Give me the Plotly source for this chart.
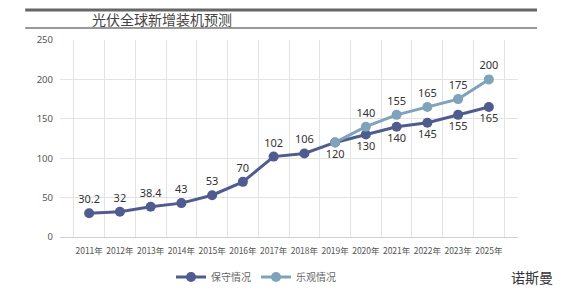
import plotly.graph_objects as go

years = ["2011年", "2012年", "2013年", "2014年", "2015年", "2016年", "2017年",
         "2018年", "2019年", "2020年", "2021年", "2022年", "2023年", "2025年"]
conservative = [30.2, 32, 38.4, 43, 53, 70, 102, 106, 120, 130, 140, 145, 155, 165]
opt_years = ["2019年", "2020年", "2021年", "2022年", "2023年", "2025年"]
optimistic = [120, 140, 155, 165, 175, 200]
opt_labels = ["", "140", "155", "165", "175", "200"]

c_dark = "#505c8f"
c_light = "#7fa3bb"

cons_pos = ["top center"] * 8 + ["bottom center"] * 6

fig = go.Figure()
fig.add_trace(go.Scatter(
    x=years, y=conservative, name="保守情况", mode="lines+markers+text",
    line=dict(color=c_dark, width=3), marker=dict(size=10, color=c_dark),
    text=[f"{v:g}" for v in conservative], textposition=cons_pos,
    textfont=dict(size=11, color="#333333", family="Noto Sans"),
))
fig.add_trace(go.Scatter(
    x=opt_years, y=optimistic, name="乐观情况", mode="lines+markers+text",
    line=dict(color=c_light, width=3), marker=dict(size=10, color=c_light),
    text=opt_labels, textposition="top center",
    textfont=dict(size=11, color="#333333", family="Noto Sans"),
))

fig.update_layout(
    width=576, height=305,
    margin=dict(l=60, r=58, t=40, b=68),
    paper_bgcolor="white", plot_bgcolor="white",
    font=dict(family="Noto Sans CJK SC", color="#555555"),
    showlegend=True,
    legend=dict(orientation="h", x=0.428, xanchor="center", y=-0.203, yanchor="middle",
                font=dict(size=10, color="#666666"), itemwidth=30, tracegroupgap=0),
    xaxis=dict(type="category", categoryorder="array", categoryarray=years,
               tickson="boundaries", showgrid=True, gridcolor="#e3e3e3", gridwidth=1,
               showline=True, linecolor="#d0d0d0", ticks="", tickangle=0,
               ticklabelstandoff=6,
               tickfont=dict(size=8.5, color="#555555", family="Noto Sans CJK SC")),
    yaxis=dict(range=[0, 250], dtick=50, showgrid=True, gridcolor="#e3e3e3",
               zeroline=False, showline=False, ticks="", ticklabelstandoff=6,
               tickfont=dict(size=9.5, color="#555555", family="Noto Sans")),
)

fig.add_shape(type="line", xref="paper", yref="paper", x0=-0.076, x1=1.0415,
              y0=1.152, y1=1.152, line=dict(color="#666666", width=3))
fig.add_shape(type="line", xref="paper", yref="paper", x0=-0.076, x1=1.0415,
              y0=1.061, y1=1.061, line=dict(color="#777777", width=1.5))
fig.add_annotation(text="光伏全球新增装机预测", xref="paper", yref="paper",
                   x=0.2227, y=1.107, xanchor="center", yanchor="middle", showarrow=False,
                   font=dict(size=14, color="#444444", family="Noto Sans CJK SC"))
fig.add_annotation(text="诺斯曼", xref="paper", yref="paper",
                   x=1.03, y=-0.203, xanchor="center", yanchor="middle", showarrow=False,
                   font=dict(size=14, color="#333333", family="Noto Sans CJK SC"))

fig.write_html("out.html")
